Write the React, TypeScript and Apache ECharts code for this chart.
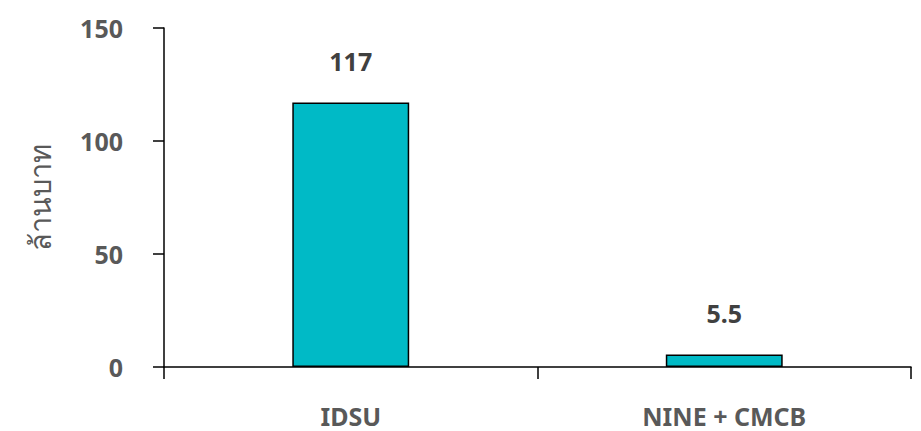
import React, { useEffect, useRef } from "react";
import * as echarts from "echarts";

const categories = ["IDSU", "NINE + CMCB"];
const values = [117, 5.5];
const yAxisName = "ล้านบาท";
const yMin = 0;
const yMax = 150;
const yInterval = 50;

export default function App() {
  const ref = useRef<HTMLDivElement>(null);
  useEffect(() => {
    if (!ref.current) return;
    const chart = echarts.init(ref.current, undefined, { renderer: "svg" });
    const font = "'Noto Sans', sans-serif";
    chart.setOption({
      animation: false,
      grid: { left: 164, right: 10, top: 28, bottom: 64 },
      xAxis: {
        type: "category",
        data: categories,
        axisLine: { lineStyle: { color: "#000", width: 1.5 } },
        axisTick: { show: true, alignWithLabel: false, length: 12, lineStyle: { color: "#000", width: 1.5 } },
        axisLabel: { color: "#595959", fontSize: 25, fontWeight: "bold", fontFamily: font, margin: 36 },
      },
      yAxis: {
        type: "value",
        min: yMin,
        max: yMax,
        interval: yInterval,
        name: yAxisName,
        nameLocation: "middle",
        nameGap: 110,
        nameTextStyle: { color: "#595959", fontSize: 29, fontWeight: 500, fontFamily: font },
        axisLine: { show: true, lineStyle: { color: "#000", width: 1.5 } },
        axisTick: { show: true, length: 11, lineStyle: { color: "#000", width: 1.5 } },
        splitLine: { show: false },
        axisLabel: { color: "#595959", fontSize: 25, fontWeight: "bold", fontFamily: font, margin: 41 },
      },
      series: [
        {
          type: "bar",
          data: values,
          barWidth: "31.3%",
          itemStyle: { color: "#00BAC6", borderColor: "#000", borderWidth: 1.5 },
          label: {
            show: true,
            position: "top",
            distance: 29,
            color: "#404040",
            fontSize: 25,
            fontWeight: "bold",
            fontFamily: font,
          },
        },
      ],
    });
    return () => chart.dispose();
  }, []);
  return <div ref={ref} style={{ width: 921, height: 431, position: "absolute", left: 0, top: 0 }} />;
}
